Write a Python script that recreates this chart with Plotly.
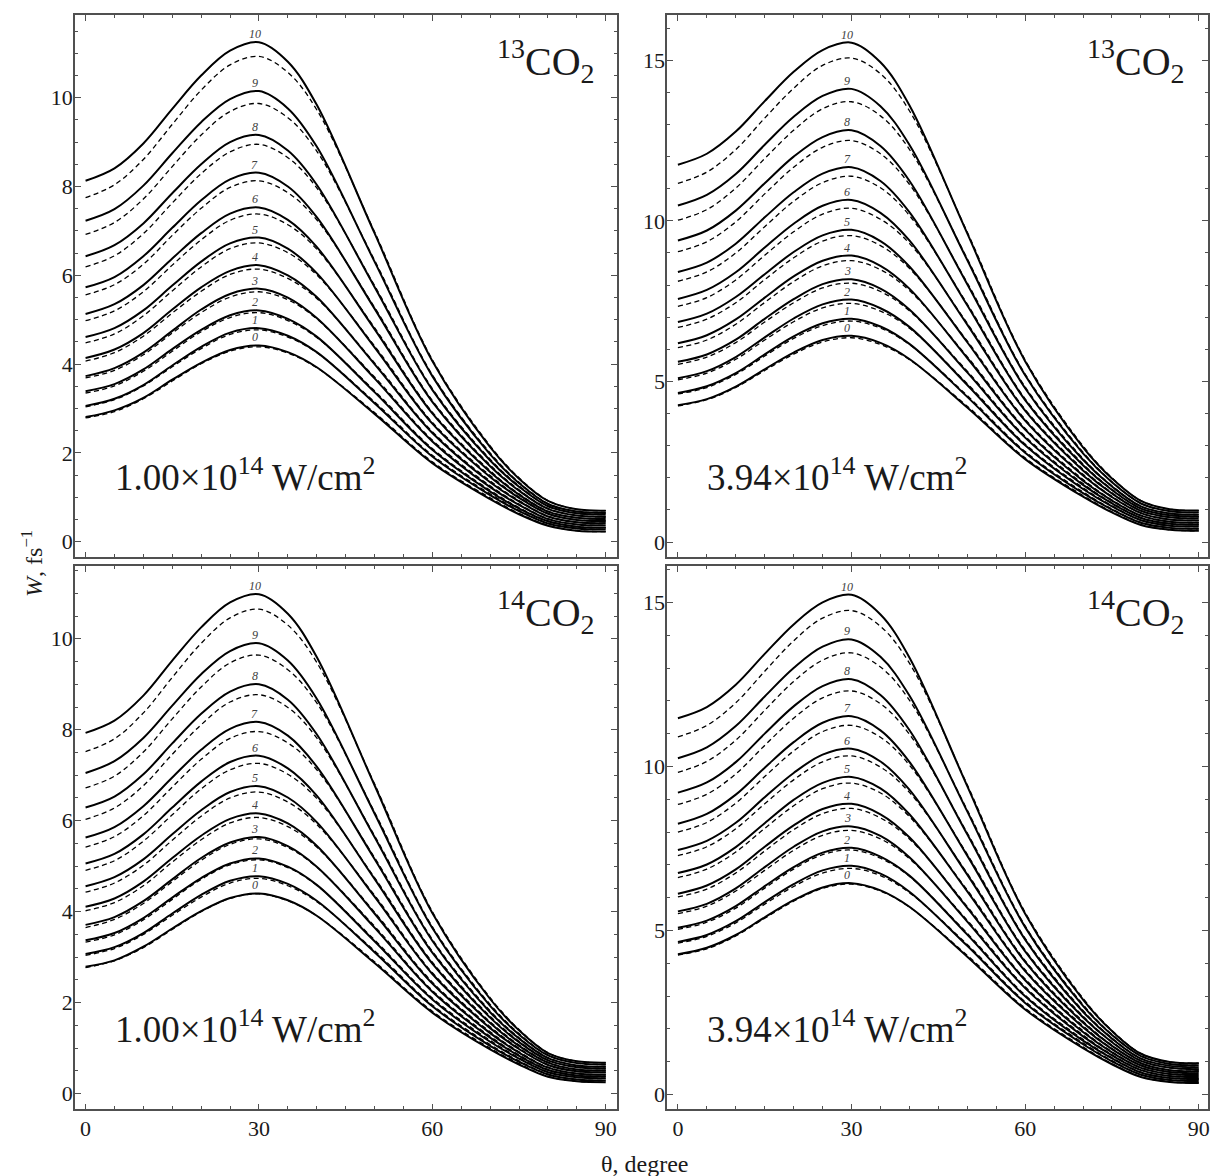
import plotly.graph_objects as go

# angle grid (degrees)
THETA = [0, 5, 10, 15, 20, 25, 30, 35, 40, 50, 60, 70, 75, 80, 85, 90]
LEVELS = list(range(11))

# 13CO2, 1.00e14 W/cm2
TL_SOLID = [
    [2.81, 2.96, 3.24, 3.65, 4.03, 4.32, 4.42, 4.27, 3.93, 2.88, 1.77, 0.96, 0.62, 0.36, 0.25, 0.23],
    [3.06, 3.22, 3.53, 3.97, 4.39, 4.71, 4.81, 4.64, 4.27, 3.12, 1.92, 1.05, 0.69, 0.41, 0.30, 0.28],
    [3.39, 3.55, 3.88, 4.34, 4.77, 5.10, 5.21, 5.02, 4.62, 3.37, 2.07, 1.13, 0.75, 0.46, 0.34, 0.32],
    [3.73, 3.91, 4.26, 4.75, 5.23, 5.58, 5.70, 5.50, 5.04, 3.68, 2.26, 1.23, 0.83, 0.51, 0.39, 0.37],
    [4.14, 4.33, 4.70, 5.23, 5.73, 6.10, 6.23, 6.00, 5.51, 4.00, 2.45, 1.34, 0.91, 0.57, 0.44, 0.42],
    [4.61, 4.81, 5.21, 5.77, 6.31, 6.72, 6.85, 6.60, 6.05, 4.38, 2.66, 1.46, 0.99, 0.63, 0.49, 0.47],
    [5.13, 5.35, 5.78, 6.38, 6.95, 7.39, 7.53, 7.25, 6.64, 4.79, 2.89, 1.57, 1.06, 0.68, 0.54, 0.51],
    [5.73, 5.96, 6.43, 7.07, 7.69, 8.16, 8.31, 8.00, 7.31, 5.25, 3.15, 1.70, 1.15, 0.74, 0.59, 0.56],
    [6.43, 6.68, 7.17, 7.85, 8.50, 9.00, 9.16, 8.81, 8.04, 5.74, 3.42, 1.83, 1.24, 0.80, 0.64, 0.61],
    [7.23, 7.49, 8.02, 8.75, 9.45, 9.97, 10.15, 9.76, 8.90, 6.31, 3.73, 1.97, 1.32, 0.85, 0.68, 0.65],
    [8.13, 8.41, 8.97, 9.75, 10.50, 11.06, 11.25, 10.81, 9.84, 6.95, 4.07, 2.13, 1.42, 0.92, 0.73, 0.70],
]
TL_DASH = [
    [2.79, 2.93, 3.22, 3.62, 4.01, 4.29, 4.39, 4.25, 3.92, 2.91, 1.80, 0.99, 0.64, 0.37, 0.25, 0.23],
    [3.04, 3.20, 3.51, 3.94, 4.35, 4.67, 4.77, 4.61, 4.26, 3.15, 1.95, 1.08, 0.71, 0.42, 0.30, 0.28],
    [3.35, 3.51, 3.84, 4.29, 4.73, 5.05, 5.16, 4.98, 4.60, 3.40, 2.10, 1.16, 0.77, 0.47, 0.34, 0.32],
    [3.69, 3.86, 4.21, 4.70, 5.16, 5.51, 5.63, 5.45, 5.02, 3.71, 2.29, 1.26, 0.85, 0.52, 0.39, 0.37],
    [4.07, 4.26, 4.63, 5.15, 5.64, 6.02, 6.14, 5.93, 5.48, 4.03, 2.48, 1.37, 0.93, 0.58, 0.44, 0.42],
    [4.48, 4.68, 5.09, 5.65, 6.19, 6.60, 6.73, 6.51, 6.01, 4.41, 2.69, 1.49, 1.01, 0.64, 0.49, 0.47],
    [4.98, 5.20, 5.63, 6.23, 6.80, 7.24, 7.38, 7.14, 6.59, 4.82, 2.92, 1.60, 1.08, 0.69, 0.54, 0.51],
    [5.56, 5.79, 6.25, 6.90, 7.51, 7.98, 8.13, 7.86, 7.25, 5.28, 3.18, 1.73, 1.17, 0.75, 0.59, 0.56],
    [6.19, 6.44, 6.94, 7.63, 8.29, 8.78, 8.95, 8.65, 7.97, 5.77, 3.45, 1.86, 1.26, 0.81, 0.64, 0.61],
    [6.92, 7.19, 7.72, 8.45, 9.16, 9.69, 9.87, 9.55, 8.80, 6.34, 3.76, 2.00, 1.34, 0.86, 0.68, 0.65],
    [7.75, 8.04, 8.61, 9.40, 10.17, 10.74, 10.93, 10.57, 9.73, 6.98, 4.10, 2.16, 1.44, 0.93, 0.73, 0.70],
]

# 13CO2, 3.94e14 W/cm2
TR_SOLID = [
    [4.26, 4.45, 4.84, 5.38, 5.90, 6.29, 6.42, 6.20, 5.70, 4.19, 2.58, 1.41, 0.92, 0.53, 0.38, 0.35],
    [4.64, 4.85, 5.26, 5.84, 6.40, 6.81, 6.95, 6.71, 6.17, 4.52, 2.78, 1.52, 1.01, 0.60, 0.44, 0.41],
    [5.10, 5.32, 5.76, 6.37, 6.96, 7.40, 7.55, 7.28, 6.70, 4.89, 3.01, 1.65, 1.11, 0.68, 0.51, 0.48],
    [5.61, 5.84, 6.30, 6.95, 7.56, 8.03, 8.18, 7.89, 7.24, 5.28, 3.25, 1.78, 1.20, 0.75, 0.57, 0.54],
    [6.19, 6.44, 6.93, 7.61, 8.27, 8.76, 8.92, 8.60, 7.89, 5.73, 3.50, 1.91, 1.29, 0.82, 0.63, 0.60],
    [6.85, 7.11, 7.63, 8.34, 9.03, 9.55, 9.72, 9.37, 8.58, 6.22, 3.78, 2.07, 1.40, 0.90, 0.70, 0.67],
    [7.57, 7.85, 8.40, 9.17, 9.91, 10.47, 10.65, 10.25, 9.39, 6.77, 4.09, 2.23, 1.51, 0.97, 0.77, 0.73],
    [8.41, 8.70, 9.29, 10.11, 10.89, 11.47, 11.67, 11.24, 10.27, 7.37, 4.42, 2.39, 1.62, 1.04, 0.83, 0.79],
    [9.39, 9.70, 10.32, 11.17, 12.00, 12.61, 12.82, 12.33, 11.25, 8.03, 4.79, 2.56, 1.73, 1.11, 0.89, 0.85],
    [10.48, 10.81, 11.46, 12.37, 13.24, 13.89, 14.11, 13.57, 12.37, 8.78, 5.19, 2.76, 1.86, 1.20, 0.96, 0.92],
    [11.75, 12.09, 12.78, 13.73, 14.64, 15.32, 15.55, 14.94, 13.60, 9.61, 5.63, 2.95, 1.98, 1.28, 1.02, 0.98],
]
TR_DASH = [
    [4.24, 4.43, 4.81, 5.34, 5.85, 6.23, 6.36, 6.15, 5.68, 4.23, 2.62, 1.45, 0.94, 0.54, 0.38, 0.35],
    [4.61, 4.81, 5.22, 5.79, 6.34, 6.74, 6.88, 6.66, 6.15, 4.56, 2.82, 1.56, 1.03, 0.61, 0.44, 0.41],
    [5.05, 5.26, 5.69, 6.29, 6.86, 7.29, 7.43, 7.19, 6.66, 4.93, 3.05, 1.69, 1.13, 0.69, 0.51, 0.48],
    [5.53, 5.76, 6.21, 6.85, 7.45, 7.91, 8.06, 7.80, 7.20, 5.32, 3.29, 1.82, 1.22, 0.76, 0.57, 0.54],
    [6.05, 6.29, 6.78, 7.46, 8.11, 8.60, 8.76, 8.48, 7.83, 5.77, 3.54, 1.95, 1.31, 0.83, 0.63, 0.60],
    [6.68, 6.94, 7.45, 8.17, 8.85, 9.37, 9.54, 9.23, 8.52, 6.26, 3.82, 2.11, 1.42, 0.91, 0.70, 0.67],
    [7.34, 7.61, 8.16, 8.93, 9.66, 10.21, 10.39, 10.05, 9.30, 6.81, 4.13, 2.27, 1.53, 0.98, 0.77, 0.73],
    [8.12, 8.41, 9.00, 9.82, 10.61, 11.19, 11.39, 11.03, 10.17, 7.41, 4.46, 2.43, 1.64, 1.05, 0.83, 0.79],
    [9.04, 9.35, 9.97, 10.84, 11.67, 12.29, 12.50, 12.09, 11.14, 8.07, 4.83, 2.60, 1.75, 1.12, 0.89, 0.85],
    [10.02, 10.35, 11.02, 11.94, 12.82, 13.49, 13.71, 13.27, 12.23, 8.82, 5.23, 2.80, 1.88, 1.21, 0.96, 0.92],
    [11.17, 11.52, 12.22, 13.20, 14.13, 14.84, 15.07, 14.58, 13.43, 9.65, 5.67, 2.99, 2.00, 1.29, 1.02, 0.98],
]

# 14CO2, 1.00e14 W/cm2
BL_SOLID = [
    [2.79, 2.93, 3.23, 3.63, 4.01, 4.30, 4.40, 4.25, 3.91, 2.87, 1.78, 0.97, 0.64, 0.37, 0.27, 0.25],
    [3.07, 3.22, 3.53, 3.96, 4.37, 4.68, 4.78, 4.61, 4.24, 3.11, 1.92, 1.05, 0.70, 0.42, 0.31, 0.29],
    [3.37, 3.53, 3.86, 4.31, 4.74, 5.06, 5.17, 4.99, 4.59, 3.35, 2.07, 1.14, 0.77, 0.47, 0.36, 0.34],
    [3.71, 3.88, 4.23, 4.71, 5.18, 5.52, 5.64, 5.44, 4.99, 3.65, 2.24, 1.23, 0.83, 0.52, 0.40, 0.38],
    [4.11, 4.29, 4.66, 5.18, 5.67, 6.04, 6.16, 5.94, 5.45, 3.96, 2.42, 1.33, 0.90, 0.57, 0.44, 0.42],
    [4.56, 4.76, 5.15, 5.70, 6.23, 6.63, 6.76, 6.51, 5.97, 4.33, 2.63, 1.44, 0.98, 0.63, 0.49, 0.47],
    [5.06, 5.27, 5.70, 6.29, 6.86, 7.29, 7.43, 7.15, 6.55, 4.72, 2.86, 1.55, 1.05, 0.68, 0.53, 0.51],
    [5.63, 5.86, 6.32, 6.95, 7.56, 8.02, 8.17, 7.87, 7.19, 5.16, 3.10, 1.67, 1.13, 0.73, 0.58, 0.55],
    [6.29, 6.53, 7.02, 7.70, 8.35, 8.84, 9.00, 8.66, 7.90, 5.64, 3.36, 1.79, 1.21, 0.78, 0.62, 0.59],
    [7.05, 7.31, 7.82, 8.53, 9.22, 9.73, 9.90, 9.52, 8.68, 6.16, 3.64, 1.93, 1.30, 0.84, 0.67, 0.64],
    [7.93, 8.20, 8.75, 9.52, 10.25, 10.80, 10.98, 10.55, 9.60, 6.78, 3.97, 2.08, 1.39, 0.89, 0.71, 0.68],
]
BL_DASH = [
    [2.77, 2.92, 3.21, 3.61, 4.00, 4.29, 4.39, 4.24, 3.91, 2.90, 1.81, 1.00, 0.66, 0.38, 0.27, 0.25],
    [3.04, 3.19, 3.50, 3.92, 4.32, 4.63, 4.73, 4.57, 4.22, 3.14, 1.95, 1.08, 0.72, 0.43, 0.31, 0.29],
    [3.33, 3.49, 3.82, 4.27, 4.71, 5.03, 5.14, 4.97, 4.58, 3.38, 2.10, 1.17, 0.79, 0.48, 0.36, 0.34],
    [3.65, 3.83, 4.18, 4.66, 5.13, 5.48, 5.60, 5.41, 4.98, 3.68, 2.27, 1.26, 0.85, 0.53, 0.40, 0.38],
    [4.02, 4.20, 4.57, 5.09, 5.58, 5.95, 6.07, 5.87, 5.42, 3.99, 2.45, 1.36, 0.92, 0.58, 0.44, 0.42],
    [4.43, 4.63, 5.02, 5.57, 6.10, 6.50, 6.63, 6.41, 5.92, 4.36, 2.66, 1.47, 1.00, 0.64, 0.49, 0.47],
    [4.91, 5.12, 5.55, 6.13, 6.70, 7.12, 7.26, 7.02, 6.49, 4.75, 2.89, 1.58, 1.07, 0.69, 0.53, 0.51],
    [5.42, 5.65, 6.11, 6.74, 7.35, 7.81, 7.96, 7.71, 7.12, 5.19, 3.13, 1.70, 1.15, 0.74, 0.58, 0.55],
    [6.03, 6.28, 6.77, 7.46, 8.11, 8.61, 8.77, 8.49, 7.82, 5.67, 3.39, 1.82, 1.23, 0.79, 0.62, 0.59],
    [6.72, 6.98, 7.51, 8.24, 8.94, 9.47, 9.64, 9.32, 8.59, 6.19, 3.67, 1.96, 1.32, 0.85, 0.67, 0.64],
    [7.52, 7.80, 8.37, 9.15, 9.90, 10.46, 10.65, 10.30, 9.48, 6.81, 4.00, 2.11, 1.41, 0.90, 0.71, 0.68],
]

# 14CO2, 3.94e14 W/cm2
BR_SOLID = [
    [4.27, 4.47, 4.86, 5.40, 5.92, 6.31, 6.44, 6.22, 5.72, 4.20, 2.59, 1.41, 0.92, 0.53, 0.38, 0.35],
    [4.65, 4.86, 5.28, 5.86, 6.41, 6.83, 6.97, 6.73, 6.18, 4.53, 2.79, 1.53, 1.01, 0.60, 0.44, 0.41],
    [5.08, 5.30, 5.74, 6.35, 6.93, 7.37, 7.52, 7.25, 6.67, 4.87, 2.99, 1.64, 1.10, 0.67, 0.50, 0.47],
    [5.58, 5.81, 6.28, 6.93, 7.55, 8.02, 8.17, 7.88, 7.23, 5.27, 3.24, 1.77, 1.19, 0.74, 0.56, 0.53],
    [6.12, 6.37, 6.86, 7.55, 8.20, 8.70, 8.86, 8.54, 7.84, 5.69, 3.48, 1.90, 1.28, 0.81, 0.62, 0.59],
    [6.75, 7.01, 7.54, 8.27, 8.98, 9.50, 9.68, 9.33, 8.54, 6.19, 3.76, 2.05, 1.38, 0.88, 0.68, 0.65],
    [7.45, 7.73, 8.28, 9.06, 9.80, 10.36, 10.54, 10.15, 9.29, 6.70, 4.04, 2.19, 1.48, 0.95, 0.74, 0.71],
    [8.25, 8.55, 9.14, 9.96, 10.74, 11.33, 11.53, 11.10, 10.14, 7.28, 4.36, 2.35, 1.59, 1.02, 0.81, 0.77],
    [9.20, 9.51, 10.13, 11.00, 11.83, 12.45, 12.66, 12.18, 11.11, 7.93, 4.72, 2.52, 1.70, 1.09, 0.87, 0.83],
    [10.25, 10.58, 11.23, 12.13, 13.00, 13.65, 13.87, 13.34, 12.16, 8.63, 5.10, 2.70, 1.81, 1.17, 0.93, 0.89],
    [11.47, 11.81, 12.49, 13.43, 14.33, 15.00, 15.23, 14.63, 13.32, 9.40, 5.51, 2.89, 1.93, 1.24, 0.99, 0.95],
]
BR_DASH = [
    [4.25, 4.44, 4.83, 5.37, 5.89, 6.28, 6.41, 6.20, 5.71, 4.24, 2.63, 1.45, 0.94, 0.54, 0.38, 0.35],
    [4.61, 4.82, 5.23, 5.80, 6.34, 6.75, 6.89, 6.67, 6.15, 4.57, 2.83, 1.57, 1.03, 0.61, 0.44, 0.41],
    [5.03, 5.25, 5.68, 6.29, 6.87, 7.31, 7.45, 7.20, 6.65, 4.91, 3.03, 1.68, 1.12, 0.68, 0.50, 0.47],
    [5.51, 5.74, 6.20, 6.83, 7.44, 7.90, 8.05, 7.79, 7.19, 5.31, 3.28, 1.81, 1.21, 0.75, 0.56, 0.53],
    [6.02, 6.26, 6.75, 7.42, 8.07, 8.56, 8.72, 8.43, 7.79, 5.73, 3.52, 1.94, 1.30, 0.82, 0.62, 0.59],
    [6.61, 6.87, 7.39, 8.11, 8.80, 9.32, 9.49, 9.19, 8.47, 6.23, 3.80, 2.09, 1.40, 0.89, 0.68, 0.65],
    [7.28, 7.55, 8.10, 8.86, 9.59, 10.14, 10.32, 9.98, 9.21, 6.74, 4.08, 2.23, 1.50, 0.96, 0.74, 0.71],
    [8.00, 8.29, 8.88, 9.69, 10.47, 11.06, 11.25, 10.89, 10.04, 7.32, 4.40, 2.39, 1.61, 1.03, 0.81, 0.77],
    [8.84, 9.15, 9.77, 10.64, 11.47, 12.09, 12.30, 11.91, 10.98, 7.97, 4.76, 2.56, 1.72, 1.10, 0.87, 0.83],
    [9.82, 10.15, 10.80, 11.71, 12.59, 13.24, 13.46, 13.03, 12.02, 8.67, 5.14, 2.74, 1.83, 1.18, 0.93, 0.89],
    [10.90, 11.25, 11.94, 12.90, 13.83, 14.52, 14.75, 14.27, 13.15, 9.44, 5.55, 2.93, 1.95, 1.25, 0.99, 0.95],
]

ISOTOPES = ["13", "13", "14", "14"]
INTENSITIES = ["1.00", "3.94", "1.00", "3.94"]
LABEL_THETA = 29.3
PEAK_INDEX = THETA.index(30)

W, H = 1215, 1176
FONT = "Liberation Serif, Times New Roman, serif"
FRAME = "#505050"

# panel frames in pixels: (left, right, top, bottom)
FRAMES = [(75, 618.3, 14.7, 557.3), (668.3, 1210, 14.7, 557.3),
          (75, 618.3, 566, 1109.3), (668.3, 1210, 566, 1109.3)]
XRANGES = [[-1.85, 92.0], [-1.85, 91.6], [-1.85, 92.0], [-1.85, 91.6]]
YRANGES = [[-0.35, 11.87], [-0.476, 16.42], [-0.345, 11.6], [-0.454, 16.11]]
YDTICK = [2, 5, 2, 5]
YMINOR = [0.5, 1, 0.5, 1]

panels = [(TL_SOLID, TL_DASH), (TR_SOLID, TR_DASH), (BL_SOLID, BL_DASH), (BR_SOLID, BR_DASH)]

fig = go.Figure()
layout = dict(width=W, height=H, margin=dict(l=0, r=0, t=0, b=0),
              paper_bgcolor="white", plot_bgcolor="white", showlegend=False,
              font=dict(family=FONT, color="#1a1a1a"))
annotations = []

for i, (solid, dash) in enumerate(panels):
    k = "" if i == 0 else str(i + 1)
    xa, ya = "x" + k, "y" + k
    for n in LEVELS:
        fig.add_trace(go.Scatter(x=THETA, y=dash[n], mode="lines", xaxis=xa, yaxis=ya,
                                 line=dict(color="black", width=1.3, dash="5px,3.5px",
                                           shape="spline", smoothing=1.0),
                                 hoverinfo="skip"))
    for n in LEVELS:
        fig.add_trace(go.Scatter(x=THETA, y=solid[n], mode="lines", xaxis=xa, yaxis=ya,
                                 line=dict(color="black", width=2.0, shape="spline", smoothing=1.0),
                                 hoverinfo="skip"))
        annotations.append(dict(x=LABEL_THETA, y=solid[n][PEAK_INDEX], xref=xa, yref=ya,
                                text="<i>%d</i>" % n, showarrow=False, xanchor="center",
                                yanchor="bottom", yshift=-1,
                                font=dict(family=FONT, size=12, color="#404040")))
    l, r, t, b = FRAMES[i]
    xdom = [l / W, r / W]
    ydom = [1 - b / H, 1 - t / H]
    bottom_row = i >= 2
    layout["xaxis" + k] = dict(
        domain=xdom, range=XRANGES[i], anchor=ya, showline=True, linecolor=FRAME, linewidth=1.6,
        mirror="allticks", ticks="inside", ticklen=6, tickwidth=1.3, tickcolor=FRAME,
        tick0=0, dtick=30, showticklabels=bottom_row, ticklabelstandoff=-2,
        tickfont=dict(family=FONT, size=22, color="#1a1a1a"),
        minor=dict(ticks="inside", ticklen=3.5, tickwidth=1.1, tickcolor=FRAME, tick0=0, dtick=5),
        showgrid=False, zeroline=False)
    layout["yaxis" + k] = dict(
        domain=ydom, range=YRANGES[i], anchor=xa, showline=True, linecolor=FRAME, linewidth=1.6,
        mirror="allticks", ticks="inside", ticklen=6, tickwidth=1.3, tickcolor=FRAME,
        tick0=0, dtick=YDTICK[i], ticklabelstandoff=-4,
        tickfont=dict(family=FONT, size=22, color="#1a1a1a"),
        minor=dict(ticks="inside", ticklen=3.5, tickwidth=1.1, tickcolor=FRAME, tick0=0, dtick=YMINOR[i]),
        showgrid=False, zeroline=False)
    annotations.append(dict(x=0.962, y=0.915, xref=xa + " domain", yref=ya + " domain",
                            text="<sup>%s</sup>CO<sub>2</sub>" % ISOTOPES[i], showarrow=False,
                            xanchor="right", yanchor="middle",
                            font=dict(family=FONT, size=40, color="#1a1a1a")))
    annotations.append(dict(x=0.07, y=0.152, xref=xa + " domain", yref=ya + " domain",
                            text="%s×10<sup>14</sup> W/cm<sup>2</sup>" % INTENSITIES[i], showarrow=False,
                            xanchor="left", yanchor="middle",
                            font=dict(family=FONT, size=37, color="#1a1a1a")))

annotations.append(dict(x=646 / W, y=1 - 1164 / H, xref="paper", yref="paper", text="θ, degree",
                        showarrow=False, xanchor="center", yanchor="middle",
                        font=dict(family=FONT, size=24, color="#1a1a1a")))
annotations.append(dict(x=32 / W, y=1 - 563 / H, xref="paper", yref="paper",
                        text="<i>W</i>, fs<sup>−1</sup>", textangle=-90,
                        showarrow=False, xanchor="center", yanchor="middle",
                        font=dict(family=FONT, size=24, color="#1a1a1a")))
layout["annotations"] = annotations
fig.update_layout(**layout)
fig.write_html("out.html", config={"displayModeBar": False},
               post_script="document.body.style.margin='0px';")
